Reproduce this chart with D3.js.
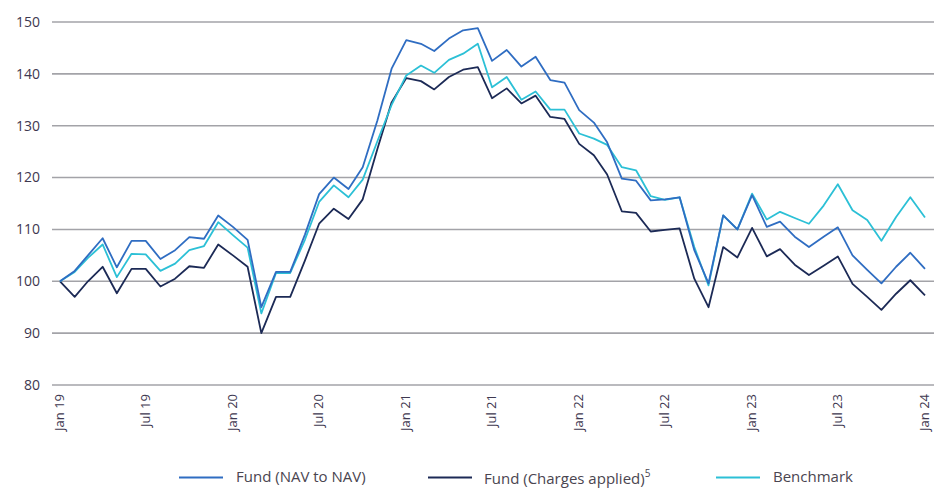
<!DOCTYPE html>
<html>
<head>
<meta charset="utf-8">
<script src="https://cdn.jsdelivr.net/npm/d3@7"></script>
<style>
  body { margin: 0; background: #fff; }
  svg { display: block; font-family: "Open Sans", sans-serif; }
</style>
</head>
<body>
<svg id="chart" width="934" height="488"></svg>
<script>
// monthly index values, Jan 19 .. Jan 24 (61 points)
const fundNav = [
  100, 102, 105, 108.3, 102.7, 107.8, 107.8, 104.3, 106, 108.5,
  108.2, 112.7, 110.5, 108, 95, 101.8, 101.8, 109, 116.8, 120,
  117.8, 122, 131, 141, 146.5, 145.8, 144.4, 146.8, 148.4, 148.8,
  142.5, 144.6, 141.4, 143.3, 138.8, 138.3, 133, 130.6, 126.8, 119.8,
  119.4, 115.6, 115.8, 116.2, 106, 99.6, 112.7, 110, 116.6, 110.5,
  111.5, 108.6, 106.6, 108.6, 110.4, 105, 102.2, 99.6, 102.8, 105.5,
  102.4
];
const fundCharges = [
  100, 97, 100, 102.8, 97.7, 102.4, 102.4, 99, 100.5, 102.9,
  102.6, 107.1, 105, 102.8, 90, 97, 97, 104, 111.1, 114,
  112, 115.8, 125.5, 134.5, 139.2, 138.6, 137, 139.4, 140.8, 141.3,
  135.3, 137.2, 134.3, 135.8, 131.7, 131.3, 126.5, 124.3, 120.6, 113.5,
  113.2, 109.6, 109.9, 110.2, 100.5, 95, 106.6, 104.6, 110.3, 104.8,
  106.2, 103.2, 101.2, 103, 104.8, 99.5, 97, 94.5, 97.6, 100.2,
  97.3
];
const benchmark = [
  100, 101.8, 104.5, 107.1, 100.8, 105.3, 105.2, 102, 103.4, 106,
  106.8, 111.4, 108.9, 106.5, 93.8, 101.6, 101.6, 108, 115.3, 118.5,
  116.2, 119.6, 127, 134, 139.7, 141.6, 140.2, 142.7, 143.9, 145.8,
  137.4, 139.4, 135, 136.6, 133.1, 133.1, 128.5, 127.5, 126.3, 122,
  121.4, 116.4, 115.7, 116.2, 106.6, 99.2, 112.7, 110, 116.9, 111.9,
  113.4, 112.2, 111.1, 114.6, 118.7, 113.7, 111.8, 107.8, 112.4, 116.2,
  112.3
];
const yTicks = [80, 90, 100, 110, 120, 130, 140, 150];
const xTickLabels = ["Jan 19", "Jul 19", "Jan 20", "Jul 20", "Jan 21", "Jul 21",
                     "Jan 22", "Jul 22", "Jan 23", "Jul 23", "Jan 24"];
const legendNames = ["Fund (NAV to NAV)", "Fund (Charges applied)", "Benchmark"];
const colors = ["#2f6dc2", "#1c2a56", "#2cc0d6"];

const months = fundNav.map((d, i) => new Date(2019, i, 1));
const svg = d3.select("#chart");

const x = d3.scaleTime()
  .domain([months[0], months[months.length - 1]])
  .range([60, 925]);
const y = d3.scaleLinear().domain([80, 150]).range([385, 22]);

// gridlines
svg.append("g")
  .selectAll("line")
  .data(yTicks)
  .join("line")
  .attr("x1", 52)
  .attr("x2", 934)
  .attr("y1", d => y(d))
  .attr("y2", d => y(d))
  .attr("stroke", "#a3a3a8")
  .attr("stroke-width", 1.6);

// y labels
svg.append("g")
  .selectAll("text")
  .data(yTicks)
  .join("text")
  .attr("x", 40)
  .attr("y", d => y(d))
  .attr("dy", "0.35em")
  .attr("text-anchor", "end")
  .attr("fill", "#3e3850")
  .style("font-size", "14px")
  .text(d => d);

// x labels, every six months
svg.append("g")
  .selectAll("text")
  .data(xTickLabels)
  .join("text")
  .attr("transform", (d, i) => "translate(" + (x(months[i * 6]) + 4) + ",394) rotate(-90)")
  .attr("text-anchor", "end")
  .attr("fill", "#3e3850")
  .style("font-size", "13px")
  .text(d => d);

const line = d3.line()
  .x((d, i) => x(months[i]))
  .y(d => y(d));

const series = [fundNav, fundCharges, benchmark];
// draw charges first, then benchmark, then NAV on top
[1, 2, 0].forEach(k => {
  svg.append("path")
    .datum(series[k])
    .attr("d", line)
    .attr("fill", "none")
    .attr("stroke", colors[k])
    .attr("stroke-width", 1.8)
    .attr("stroke-linejoin", "round");
});

// legend
const legendX = [179, 428, 716];
const legendW = [44, 44, 44];
const lg = svg.append("g");
legendNames.forEach((name, i) => {
  lg.append("line")
    .attr("x1", legendX[i])
    .attr("x2", legendX[i] + legendW[i])
    .attr("y1", 477.5)
    .attr("y2", 477.5)
    .attr("stroke", colors[i])
    .attr("stroke-width", 2);
  const t = lg.append("text")
    .attr("x", legendX[i] + (i === 1 ? 56 : 57))
    .attr("y", i === 1 ? 484 : 482)
    .attr("fill", "#4a4550")
    .style("font-size", "15px")
    .text(name);
  if (i === 1) {
    t.append("tspan").attr("dy", -7).style("font-size", "10px").text("5");
  }
});
</script>
</body>
</html>
